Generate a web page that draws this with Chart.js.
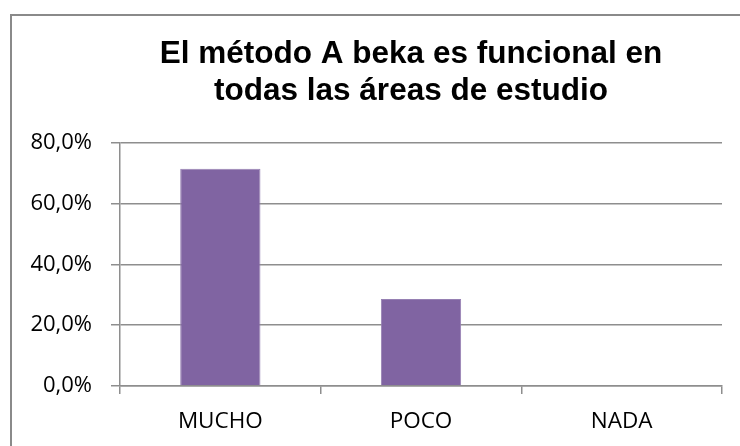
<!DOCTYPE html>
<html>
<head>
<meta charset="utf-8">
<script src="https://cdn.jsdelivr.net/npm/chart.js@4/dist/chart.umd.min.js"></script>
<style>
  html, body { margin: 0; padding: 0; background: #ffffff; }
  #wrap { width: 740px; height: 446px; position: relative; }
</style>
</head>
<body>
<div id="wrap"><canvas id="c" width="740" height="446"></canvas></div>
<script>
const titleLines = ['El método A beka es funcional en', 'todas las áreas de estudio'];
const categories = ['MUCHO', 'POCO', 'NADA'];
const values = [71.4, 28.6, 0];
const yTickMin = 0;
const yTickMax = 80;
const yTickStep = 20;

const gridColor = '#8e8e8e';

const framePlugin = {
  id: 'frame',
  beforeDraw(chart) {
    const ctx = chart.ctx;
    ctx.save();
    ctx.fillStyle = '#ffffff';
    ctx.fillRect(0, 0, chart.width, chart.height);
    ctx.strokeStyle = '#8a8a8a';
    ctx.lineWidth = 2;
    ctx.strokeRect(11, 15, 1000, 1000);
    ctx.restore();
  },
  afterLayout(chart) {
    // the original chart frame is wider than the visible crop, so its title is centred further right
    const t = chart.titleBlock;
    if (t) { t.left = 100; t.right = 722; }
  }
};

new Chart(document.getElementById('c'), {
  type: 'bar',
  data: {
    labels: categories,
    datasets: [{
      data: values,
      backgroundColor: '#8064A2',
      borderColor: '#9680b3',
      borderWidth: 1,
      barPercentage: 0.4,
      categoryPercentage: 1.0
    }]
  },
  options: {
    responsive: false,
    animation: false,
    devicePixelRatio: 1,
    layout: { padding: { left: 0, right: 18, top: 0, bottom: 0 } },
    plugins: {
      legend: { display: false },
      tooltip: { enabled: false },
      title: {
        display: true,
        text: titleLines,
        color: '#000000',
        font: { family: "'Liberation Sans', Arial, sans-serif", weight: 'bold', size: 31.5, lineHeight: 1.2 },
        padding: { top: 35, bottom: 32 }
      }
    },
    scales: {
      x: {
        offset: true,
        afterFit(scale) { scale.height = 60; },
        grid: {
          offset: true,
          drawOnChartArea: false,
          drawTicks: true,
          tickLength: 8,
          color: gridColor,
          lineWidth: 1.5
        },
        border: { display: true, color: gridColor, width: 1.5 },
        ticks: {
          color: '#000000',
          padding: 14,
          maxRotation: 0,
          font: { family: "'Open Sans', sans-serif", size: 22.5 }
        }
      },
      y: {
        min: yTickMin,
        max: yTickMax,
        afterFit(scale) { scale.width = 120; },
        grid: {
          drawTicks: true,
          tickLength: 9,
          color: gridColor,
          lineWidth: 1.5
        },
        border: { display: true, color: gridColor, width: 1.5 },
        ticks: {
          stepSize: yTickStep,
          color: '#000000',
          padding: 19,
          font: { family: "'Open Sans', sans-serif", size: 22 },
          callback: (v) => v.toFixed(1).replace('.', ',') + '%'
        }
      }
    }
  },
  plugins: [framePlugin]
});
</script>
</body>
</html>
